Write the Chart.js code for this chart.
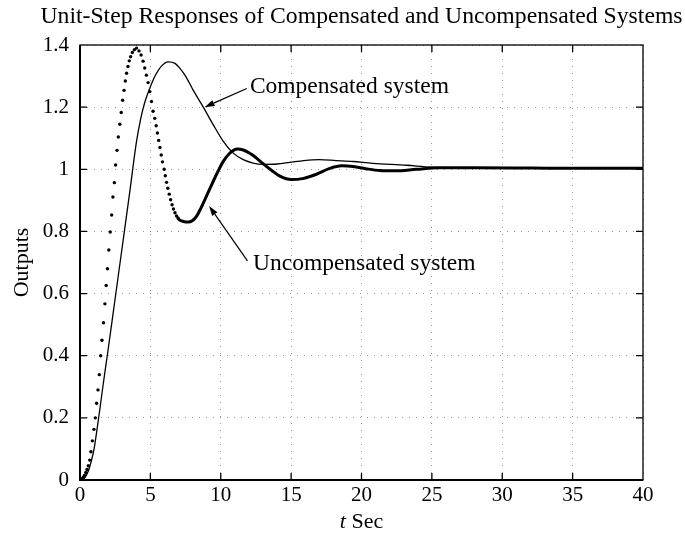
<!DOCTYPE html>
<html>
<head>
<meta charset="utf-8">
<script src="https://cdn.jsdelivr.net/npm/chart.js@4.4.1/dist/chart.umd.min.js"></script>
<style>
  html, body { margin: 0; padding: 0; background: #fff; }
  canvas { display: block; }
</style>
</head>
<body>
<canvas id="stepChart" width="685" height="535"></canvas>
<script>
// Compensated system (thin solid line)
const compTime = [0, 0.3, 0.6, 0.8, 1.0, 1.2, 1.4, 1.7, 2.0, 2.5, 3.0, 3.5, 4.0, 4.3, 4.6, 4.97, 5.33, 5.8,
  6.27, 6.75, 7.1, 7.5, 8.05, 8.76, 9.47, 10.18, 10.89, 11.6, 12.3, 13.0, 14.0, 14.9, 15.9, 17.0, 18.2,
  19.4, 20.8, 23.2, 24.9, 27, 30, 35, 40];
const compOutput = [0, 0.005, 0.03, 0.06, 0.1, 0.16, 0.225, 0.325, 0.42, 0.585, 0.75, 0.915, 1.085, 1.16,
  1.215, 1.262, 1.30, 1.333, 1.346, 1.341, 1.325, 1.30, 1.254, 1.20, 1.143, 1.09, 1.052, 1.031, 1.02,
  1.016, 1.017, 1.022, 1.028, 1.031, 1.028, 1.025, 1.019, 1.013, 1.007, 1.004, 1.003, 1.003, 1.003];

// Uncompensated system: separate dots while the response is fast, a heavy line once they run together
const uncompTime = [0, 0.12, 0.22, 0.32, 0.41, 0.50, 0.59, 0.69, 0.78, 0.88, 0.99, 1.09, 1.18, 1.28, 1.37,
  1.47, 1.56, 1.67, 1.77, 1.86, 1.95, 2.05, 2.15, 2.25, 2.34, 2.44, 2.53, 2.63, 2.72, 2.83, 2.93, 3.03,
  3.13, 3.22, 3.31, 3.41, 3.50, 3.60, 3.72, 3.86, 4.02, 4.19, 4.34, 4.48, 4.60, 4.72, 4.84, 4.96, 5.08,
  5.19, 5.31, 5.41, 5.50, 5.59, 5.68, 5.77, 5.86, 5.98, 6.06, 6.15, 6.24, 6.34, 6.44, 6.54, 6.64, 6.75,
  6.86, 6.96,
  7.07, 7.35, 7.69, 8.0, 8.3, 8.6, 9.0, 9.4, 9.8, 10.2, 10.6, 10.9, 11.2, 11.6, 12.0, 12.4, 13.0, 13.6,
  14.2, 15.0, 15.8, 16.8, 17.7, 18.6, 19.4, 20.3, 21.3, 22.4, 23.9, 25.5, 28, 32, 36, 40];
const uncompOutput = [0, 0.003, 0.008, 0.015, 0.024, 0.034, 0.046, 0.064, 0.091, 0.126, 0.163, 0.200, 0.247,
  0.290, 0.339, 0.400, 0.450, 0.506, 0.567, 0.626, 0.680, 0.740, 0.798, 0.853, 0.911, 0.957, 1.014, 1.061,
  1.104, 1.145, 1.183, 1.222, 1.254, 1.284, 1.309, 1.331, 1.349, 1.362, 1.376, 1.385, 1.390, 1.381, 1.368,
  1.348, 1.326, 1.303, 1.279, 1.250, 1.218, 1.187, 1.164, 1.140, 1.117, 1.093, 1.070, 1.046, 1.024, 1.0,
  0.979, 0.958, 0.939, 0.920, 0.902, 0.886, 0.872, 0.860, 0.850, 0.843,
  0.837, 0.832, 0.830, 0.835, 0.850, 0.876, 0.915, 0.955, 0.993, 1.027, 1.050, 1.061, 1.065, 1.062, 1.053,
  1.041, 1.018, 0.997, 0.978, 0.967, 0.970, 0.984, 1.002, 1.011, 1.009, 1.002, 0.996, 0.995, 1.0, 1.005,
  1.005, 1.004, 1.003, 1.003];
const dotLimit = 7.0;

const xTicks = [0, 5, 10, 15, 20, 25, 30, 35, 40];
const xTickLabels = ['0', '5', '10', '15', '20', '25', '30', '35', '40'];
const yTicks = [0, 0.2, 0.4, 0.6, 0.8, 1.0, 1.2, 1.4];
const yTickLabels = ['0', '0.2', '0.4', '0.6', '0.8', '1', '1.2', '1.4'];

const chartTitle = 'Unit-Step Responses of Compensated and Uncompensated Systems';
const serif = '"Liberation Serif", "DejaVu Serif", serif';

// text labels with arrows, in data units
const notes = [
  { text: 'Compensated system', x: 12.07, y: 1.244, tailX: 11.85, tailY: 1.26, headX: 8.85, headY: 1.20 },
  { text: 'Uncompensated system', x: 12.29, y: 0.675, tailX: 11.9, tailY: 0.705, headX: 9.17, headY: 0.882 }
];

function pairs(xs, ys) {
  return xs.map((t, i) => ({ x: t, y: ys[i] }));
}

// title, box with inward ticks, x title, notes
const decorations = {
  id: 'decorations',
  afterDraw(chart) {
    const { ctx, chartArea, scales } = chart;
    const { left, right, top, bottom } = chartArea;
    const x = scales.x, y = scales.y;
    const cx = (left + right) / 2;
    ctx.save();
    ctx.fillStyle = '#000';
    ctx.strokeStyle = '#000';

    // title, centred over the plot box
    ctx.font = '23.7px ' + serif;
    ctx.textAlign = 'center';
    ctx.textBaseline = 'alphabetic';
    ctx.fillText(chartTitle, cx, top - 22);

    ctx.lineWidth = 1.3;
    ctx.strokeRect(left, top, right - left, bottom - top);
    ctx.lineWidth = 2;
    ctx.beginPath();
    ctx.moveTo(left, top);
    ctx.lineTo(left, bottom);
    ctx.lineTo(right, bottom);
    ctx.stroke();

    ctx.lineWidth = 1.3;
    ctx.beginPath();
    xTicks.slice(1, -1).forEach(v => {
      const px = x.getPixelForValue(v);
      ctx.moveTo(px, bottom); ctx.lineTo(px, bottom - 7);
      ctx.moveTo(px, top); ctx.lineTo(px, top + 7);
    });
    yTicks.slice(1, -1).forEach(v => {
      const py = y.getPixelForValue(v);
      ctx.moveTo(left, py); ctx.lineTo(left + 7, py);
      ctx.moveTo(right, py); ctx.lineTo(right - 7, py);
    });
    ctx.stroke();

    // x axis title: italic t, upright Sec
    ctx.textAlign = 'left';
    const italic = 'italic 22px ' + serif;
    const upright = '22px ' + serif;
    ctx.font = italic;
    const wt = ctx.measureText('t').width;
    ctx.font = upright;
    const ws = ctx.measureText(' Sec').width;
    const start = cx - (wt + ws) / 2;
    ctx.font = italic;
    ctx.fillText('t', start, bottom + 48);
    ctx.font = upright;
    ctx.fillText(' Sec', start + wt, bottom + 48);

    // notes with arrows
    ctx.font = '23.5px ' + serif;
    notes.forEach(n => {
      ctx.fillText(n.text, x.getPixelForValue(n.x), y.getPixelForValue(n.y));
      const x0 = x.getPixelForValue(n.tailX), y0 = y.getPixelForValue(n.tailY);
      const x1 = x.getPixelForValue(n.headX), y1 = y.getPixelForValue(n.headY);
      const ang = Math.atan2(y1 - y0, x1 - x0);
      const len = 10, half = 3.2;
      const bx = x1 - len * Math.cos(ang), by = y1 - len * Math.sin(ang);
      ctx.lineWidth = 1.2;
      ctx.beginPath();
      ctx.moveTo(x0, y0);
      ctx.lineTo(bx, by);
      ctx.stroke();
      ctx.beginPath();
      ctx.moveTo(x1, y1);
      ctx.lineTo(bx + half * Math.sin(ang), by - half * Math.cos(ang));
      ctx.lineTo(bx - half * Math.sin(ang), by + half * Math.cos(ang));
      ctx.closePath();
      ctx.fill();
    });
    ctx.restore();
  }
};

const config = {
  type: 'line',
  data: {
    datasets: [
      {
        label: 'Compensated system',
        data: pairs(compTime, compOutput),
        borderColor: '#000',
        borderWidth: 1.3,
        pointRadius: 0,
        cubicInterpolationMode: 'monotone',
        fill: false
      },
      {
        label: 'Uncompensated system',
        data: pairs(uncompTime, uncompOutput),
        borderColor: '#000',
        borderWidth: 3,
        pointRadius: ctx => (ctx.raw && ctx.raw.x < dotLimit ? 1.7 : 0),
        pointBackgroundColor: '#000',
        pointBorderWidth: 0,
        cubicInterpolationMode: 'monotone',
        segment: {
          borderColor: ctx => (ctx.p1.parsed.x > dotLimit ? '#000' : 'rgba(0,0,0,0)')
        },
        fill: false
      }
    ]
  },
  options: {
    responsive: false,
    animation: false,
    devicePixelRatio: 1,
    layout: { padding: { left: 0, right: 42, top: 45, bottom: 0 } },
    plugins: {
      legend: { display: false },
      tooltip: { enabled: false },
      title: { display: false }
    },
    scales: {
      x: {
        type: 'linear',
        min: 0,
        max: 40,
        afterBuildTicks: s => { s.ticks = xTicks.map(v => ({ value: v })); },
        afterFit: s => { s.height = 55; },
        ticks: {
          color: '#000',
          font: { family: serif, size: 21 },
          padding: 3,
          maxRotation: 0,
          autoSkip: false,
          callback: v => xTickLabels[xTicks.indexOf(v)]
        },
        grid: { color: 'rgba(0,0,0,0.4)', lineWidth: 1, drawTicks: false },
        border: { display: false, dash: [1, 6] }
      },
      y: {
        min: 0,
        max: 1.4,
        afterBuildTicks: s => { s.ticks = yTicks.map(v => ({ value: v })); },
        afterFit: s => { s.width = 80; },
        ticks: {
          color: '#000',
          font: { family: serif, size: 21 },
          padding: 11,
          autoSkip: false,
          callback: v => yTickLabels[yTicks.indexOf(v)]
        },
        title: {
          display: true,
          text: 'Outputs',
          color: '#000',
          font: { family: serif, size: 22 },
          padding: { top: 9, bottom: 0 }
        },
        grid: { color: 'rgba(0,0,0,0.4)', lineWidth: 1, drawTicks: false },
        border: { display: false, dash: [1, 6] }
      }
    }
  },
  plugins: [decorations]
};

function initializeChart() {
  const ctx = document.getElementById('stepChart').getContext('2d');
  new Chart(ctx, config);
}

document.addEventListener('DOMContentLoaded', initializeChart);
</script>
</body>
</html>
